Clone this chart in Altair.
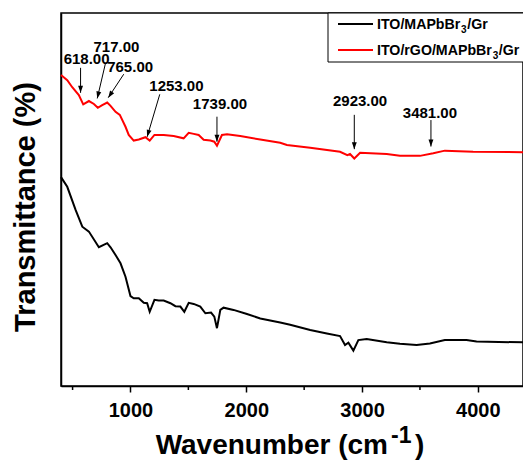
import math
import altair as alt
import pandas as pd

# ---- data (wavenumber cm^-1, transmittance in arbitrary %) ----
series_names = ["ITO/MAPbBr₃/Gr", "ITO/rGO/MAPbBr₃/Gr"]
series_colors = ["#000000", "#ff0000"]
# legend labels split for a real subscript: (before, subscript, after)
legend_parts = [("ITO/MAPbBr", "3", "/Gr"), ("ITO/rGO/MAPbBr", "3", "/Gr")]

wn_black = [400, 454, 526, 584, 641, 727, 799, 828, 871, 914, 957, 1000, 1028, 1072, 1115,
            1144, 1166, 1207, 1244, 1287, 1345, 1388, 1431, 1465, 1503, 1546, 1603, 1647, 1696,
            1724, 1747, 1776, 1804, 1890, 2006, 2121, 2293, 2379, 2552, 2696, 2810, 2853, 2882,
            2925, 2968, 3040, 3213, 3327, 3471, 3586, 3715, 3902, 3989, 4390]
t_black = [56.0, 53.4, 47.2, 42.7, 41.4, 37.2, 38.3, 37.2, 35.1, 32.9, 29.3, 24.1, 23.5, 23.5, 22.3,
           22.2, 19.9, 23.1, 22.9, 22.9, 22.2, 21.4, 21.3, 19.9, 22.3, 22.0, 21.3, 19.5, 19.7,
           18.6, 15.5, 20.4, 21.0, 20.4, 19.3, 18.1, 17.0, 16.4, 15.0, 14.1, 13.4, 11.0, 11.6,
           9.5, 12.3, 12.6, 11.7, 11.3, 11.0, 11.4, 12.3, 12.3, 11.9, 11.7]

wn_red = [400, 454, 497, 554, 592, 641, 684, 718, 756, 799, 828, 871, 908, 957, 985, 1028, 1072,
          1129, 1166, 1207, 1287, 1373, 1459, 1503, 1546, 1589, 1632, 1690, 1724, 1747, 1790,
          1834, 1948, 2121, 2293, 2351, 2552, 2810, 2873, 2896, 2933, 2983, 3213, 3327, 3500,
          3615, 3715, 3959, 4390]
t_red = [83.4, 82.0, 80.1, 78.0, 75.5, 76.4, 75.6, 74.6, 75.3, 76.0, 75.1, 73.5, 72.7, 69.5, 67.3,
         65.8, 66.1, 66.7, 65.8, 67.3, 67.3, 67.0, 66.4, 67.9, 67.6, 67.3, 66.0, 65.8, 65.5, 64.4,
         67.3, 67.5, 67.0, 66.1, 65.2, 64.6, 63.9, 62.8, 61.9, 62.2, 61.0, 62.5, 62.2, 61.7, 61.7,
         62.4, 63.1, 62.8, 62.7]

# peak annotations
ann_labels = ["618.00", "717.00", "765.00", "1253.00", "1739.00", "2923.00", "3481.00"]
ann_text_x = [621, 879, 997, 1397, 1773, 2983, 3586]
ann_text_y = [87.7, 91.0, 85.5, 80.3, 75.6, 76.5, 73.2]
arrow_x0 = [569, 784, 942, 1253, 1747, 2933, 3595]
arrow_y0 = [85.3, 86.5, 83.6, 78.2, 72.2, 72.7, 71.3]
arrow_x1 = [569, 713, 808, 1144, 1747, 2933, 3595]
arrow_y1 = [78.6, 77.1, 77.3, 66.8, 65.5, 63.5, 64.2]

x_major = [1000, 2000, 3000, 4000]
x_minor = [500, 1500, 2500, 3500]

# ---- layout ----
W, H = 462, 373
X_DOM = [400, 4390]
Y_DOM = [0, 100]
FONT = "Liberation Sans"

df = pd.concat([
    pd.DataFrame({"series": series_names[0], "wn": wn_black, "t": t_black}),
    pd.DataFrame({"series": series_names[1], "wn": wn_red, "t": t_red}),
])

px_per_x = W / (X_DOM[1] - X_DOM[0])
px_per_y = H / (Y_DOM[1] - Y_DOM[0])
angles = []
for a, b, c, d in zip(arrow_x0, arrow_y0, arrow_x1, arrow_y1):
    dxp = (c - a) * px_per_x
    dyp = -(d - b) * px_per_y
    angles.append(math.degrees(math.atan2(-dxp, dyp)) % 360)

ann = pd.DataFrame({"label": ann_labels, "tx": ann_text_x, "ty": ann_text_y,
                    "x0": arrow_x0, "y0": arrow_y0, "x1": arrow_x1, "y1": arrow_y1,
                    "ang": angles})

xs = alt.Scale(domain=X_DOM, nice=False, zero=False)
ys = alt.Scale(domain=Y_DOM, nice=False, zero=False)

x_axis = alt.Axis(
    title=None, values=x_major, format="d",
    labelFont=FONT, labelFontSize=20, labelFontWeight="bold", labelColor="black",
    labelPadding=8, grid=False, tickSize=6,
    tickColor="black", tickWidth=1.5, domainColor="black", domainWidth=1.5,
)
y_axis = alt.Axis(title=None, labels=False, ticks=False, grid=False,
                  domainColor="black", domainWidth=1.5)

lines = alt.Chart(df).mark_line(strokeWidth=2).encode(
    x=alt.X("wn:Q", scale=xs, axis=x_axis),
    y=alt.Y("t:Q", scale=ys, axis=y_axis),
    color=alt.Color("series:N",
                    scale=alt.Scale(domain=series_names, range=series_colors),
                    legend=None),
    order=alt.Order("wn:Q"),
)

minor = alt.Chart(pd.DataFrame({"m": x_minor})).mark_rule(
    color="black", strokeWidth=1.5
).encode(
    x=alt.X("m:Q", scale=xs, axis=x_axis), y=alt.value(H), y2=alt.value(H + 4),
)

rules = alt.Chart(ann).mark_rule(color="black", strokeWidth=1).encode(
    x=alt.X("x0:Q", scale=xs, axis=x_axis), x2="x1:Q",
    y=alt.Y("y0:Q", scale=ys, axis=y_axis), y2="y1:Q",
)
heads = alt.Chart(ann).mark_point(
    shape="M-0.35,-1L0,0L0.35,-1Z", filled=True, color="black", opacity=1, size=196,
).encode(
    x=alt.X("x1:Q", scale=xs, axis=x_axis),
    y=alt.Y("y1:Q", scale=ys, axis=y_axis),
    angle=alt.Angle("ang:Q", scale=None),
)
labels = alt.Chart(ann).mark_text(
    font=FONT, fontSize=15, fontWeight="bold", color="black",
    align="center", baseline="middle",
).encode(
    x=alt.X("tx:Q", scale=xs, axis=x_axis),
    y=alt.Y("ty:Q", scale=ys, axis=y_axis),
    text="label:N",
)


def text_at(txt, x, y, size, align="left", angle=0, baseline="alphabetic"):
    return alt.Chart(pd.DataFrame({"t": [txt]})).mark_text(
        font=FONT, fontSize=size, fontWeight="bold", color="black",
        align=align, baseline=baseline, angle=angle,
    ).encode(text="t:N", x=alt.value(x), y=alt.value(y))


# axis titles
xt1 = text_at("Wavenumber (cm", 327, 441, 28, align="right")
xt2 = text_at("-1", 330, 430, 23)
xt3 = text_at(")", 354, 441, 28)
yt = text_at("Transmittance (%)", -26, 194, 29, align="center", angle=270)

# ---- custom legend (box attached to the top frame) ----
ARIAL_B = {"I": 278, "T": 611, "O": 778, "/": 278, "M": 833, "A": 722, "P": 667,
           "b": 611, "B": 722, "r": 389, "G": 778, "3": 556}


def tw(s, size):
    return sum(ARIAL_B.get(ch, 556) for ch in s) * size / 1000.0


LEG_FS, SUB_FS = 14.2, 10
leg_box = alt.Chart(pd.DataFrame({"k": [0]})).mark_rect(
    fill="white", stroke="black", strokeWidth=1
).encode(x=alt.value(267), x2=alt.value(480), y=alt.value(0), y2=alt.value(49))
leg_layers = [leg_box]
row_y = [11, 37]
for i, (a, sub, b) in enumerate(legend_parts):
    yy = row_y[i]
    leg_layers.append(
        alt.Chart(pd.DataFrame({"s": [series_names[i]]})).mark_rule(strokeWidth=2).encode(
            x=alt.value(277), x2=alt.value(312), y=alt.value(yy),
            color=alt.Color("s:N", scale=alt.Scale(domain=series_names, range=series_colors),
                            legend=None))
    )
    x0 = 316
    base = yy + 5
    leg_layers.append(text_at(a, x0, base, LEG_FS))
    x1 = x0 + tw(a, LEG_FS) + 0.5
    leg_layers.append(text_at(sub, x1, base + 4, SUB_FS))
    x2 = x1 + tw(sub, SUB_FS) + 0.5
    leg_layers.append(text_at(b, x2, base, LEG_FS))

chart = alt.layer(lines, minor, rules, heads, labels, xt1, xt2, xt3, yt, *leg_layers).properties(
    width=W, height=H, autosize="none",
    padding={"left": 61, "top": 13, "right": 0, "bottom": 76},
    background="white",
).configure_view(stroke="black", strokeWidth=1.5)

chart.save("out.html", embed_options={"renderer": "svg", "actions": False})
